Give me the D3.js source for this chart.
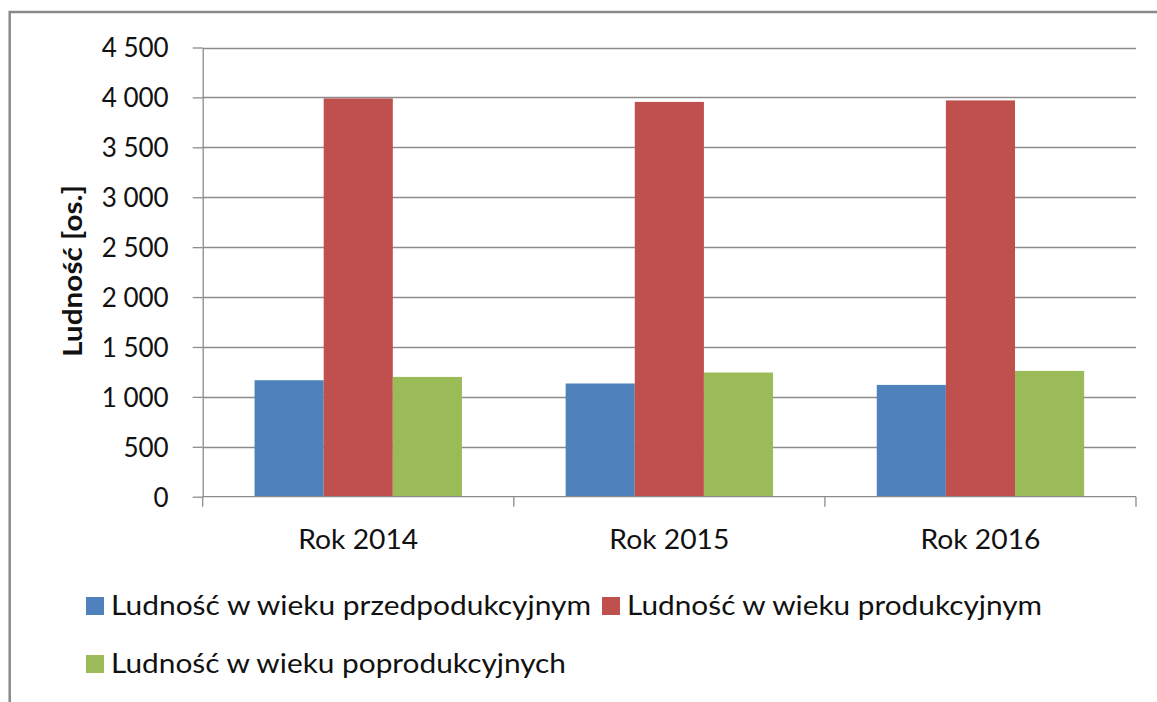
<!DOCTYPE html>
<html>
<head>
<meta charset="utf-8">
<script src="https://cdn.jsdelivr.net/npm/d3@7"></script>
<style>
  html, body { margin: 0; padding: 0; background: #ffffff; }
  svg { display: block; }
  text { font-family: Lato, "Open Sans", sans-serif; fill: #111111; }
</style>
</head>
<body>
<svg id="chart" width="1157" height="702"></svg>
<script>
const categories = ["Rok 2014", "Rok 2015", "Rok 2016"];
const seriesNames = [
  "Ludność w wieku przedpodukcyjnym",
  "Ludność w wieku produkcyjnym",
  "Ludność w wieku poprodukcyjnych"
];
const preProductive = [1167, 1134, 1120];
const productive = [3990, 3955, 3970];
const postProductive = [1200, 1244, 1260];
const yTicks = [0, 500, 1000, 1500, 2000, 2500, 3000, 3500, 4000, 4500];
const yTitle = "Ludność [os.]";
const colors = ["#4F81BD", "#C0504D", "#9BBB59"];

const seriesValues = [preProductive, productive, postProductive];

const svg = d3.select("#chart");
const W = 1157, H = 702;
const plot = { left: 202.7, right: 1136, top: 47.5, bottom: 496.7 };

// frame
svg.append("rect")
  .attr("x", 9.7).attr("y", 12)
  .attr("width", W + 20).attr("height", H + 20)
  .attr("fill", "none").attr("stroke", "#8a8a8a").attr("stroke-width", 2.5);

const x0 = d3.scaleBand().domain(categories).range([plot.left, plot.right]).paddingInner(0).paddingOuter(0);
const barW = x0.bandwidth() / 4.5;
const x1 = d3.scaleBand().domain(d3.range(seriesNames.length))
  .range([barW * 0.75, barW * 3.75]).paddingInner(0).paddingOuter(0);

const y = d3.scaleLinear().domain([0, 4500]).range([plot.bottom, plot.top]);

const locale = d3.formatLocale({ decimal: ",", thousands: "\u00a0", grouping: [3], currency: ["", " zł"] });
const fmt = locale.format(",d");

// gridlines
svg.append("g").selectAll("line").data(yTicks.filter(d => d > 0)).join("line")
  .attr("x1", plot.left).attr("x2", plot.right)
  .attr("y1", d => Math.round(y(d)) + 0.5).attr("y2", d => Math.round(y(d)) + 0.5)
  .attr("stroke", "#8c8c8c").attr("stroke-width", 1.3);

// bars
const gCat = svg.append("g").selectAll("g").data(categories).join("g")
  .attr("transform", d => `translate(${x0(d)},0)`);
gCat.selectAll("rect").data((d, i) => seriesValues.map((s, k) => ({ k, v: s[i] }))).join("rect")
  .attr("x", d => x1(d.k))
  .attr("width", x1.bandwidth())
  .attr("y", d => y(d.v))
  .attr("height", d => plot.bottom - y(d.v))
  .attr("fill", d => colors[d.k]);

// y axis
const yAxis = d3.axisLeft(y).tickValues(yTicks).tickSize(10).tickSizeOuter(0).tickFormat(fmt).tickPadding(24);
const gy = svg.append("g").attr("transform", `translate(${plot.left},0)`).call(yAxis);
gy.select(".domain").attr("stroke", "#8c8c8c").attr("stroke-width", 1.3);
gy.selectAll(".tick line").attr("stroke", "#8c8c8c").attr("stroke-width", 1.3);
gy.selectAll(".tick text").attr("font-size", 26).attr("fill", "#111111")
  .style("font-family", "Lato, sans-serif").attr("dy", "0.36em");

// x axis
const gx = svg.append("g").attr("transform", `translate(0,${plot.bottom})`);
gx.append("line").attr("x1", plot.left).attr("x2", plot.right).attr("y1", 0).attr("y2", 0)
  .attr("stroke", "#8c8c8c").attr("stroke-width", 1.3);
const boundaries = categories.map(c => x0(c)).concat([plot.right]);
gx.selectAll("line.tk").data(boundaries).join("line").attr("class", "tk")
  .attr("x1", d => d).attr("x2", d => d).attr("y1", 0).attr("y2", 10)
  .attr("stroke", "#8c8c8c").attr("stroke-width", 1.3);
gx.selectAll("text").data(categories).join("text")
  .attr("x", d => x0(d) + x0.bandwidth() / 2 - 60)
  .attr("y", 52)
  .attr("font-size", 27)
  .attr("textLength", 120)
  .attr("lengthAdjust", "spacingAndGlyphs")
  .text(d => d);

// y title
svg.append("text")
  .attr("transform", `translate(82,357) rotate(-90)`)
  .attr("font-size", 26)
  .attr("font-weight", "bold")
  .attr("textLength", 172)
  .attr("lengthAdjust", "spacingAndGlyphs")
  .text(yTitle);

// legend
const legendItems = [
  { x: 86, y: 597, tx: 111, by: 615, w: 480 },
  { x: 602, y: 597, tx: 627, by: 615, w: 415 },
  { x: 86, y: 655, tx: 111, by: 673, w: 455 }
];
const lg = svg.append("g").selectAll("g").data(seriesNames).join("g");
lg.append("rect")
  .attr("x", (d, i) => legendItems[i].x).attr("y", (d, i) => legendItems[i].y)
  .attr("width", 18).attr("height", 18)
  .attr("fill", (d, i) => colors[i]);
lg.append("text")
  .attr("x", (d, i) => legendItems[i].tx).attr("y", (d, i) => legendItems[i].by)
  .attr("font-size", 26)
  .attr("textLength", (d, i) => legendItems[i].w)
  .attr("lengthAdjust", "spacingAndGlyphs")
  .text(d => d);
</script>
</body>
</html>
